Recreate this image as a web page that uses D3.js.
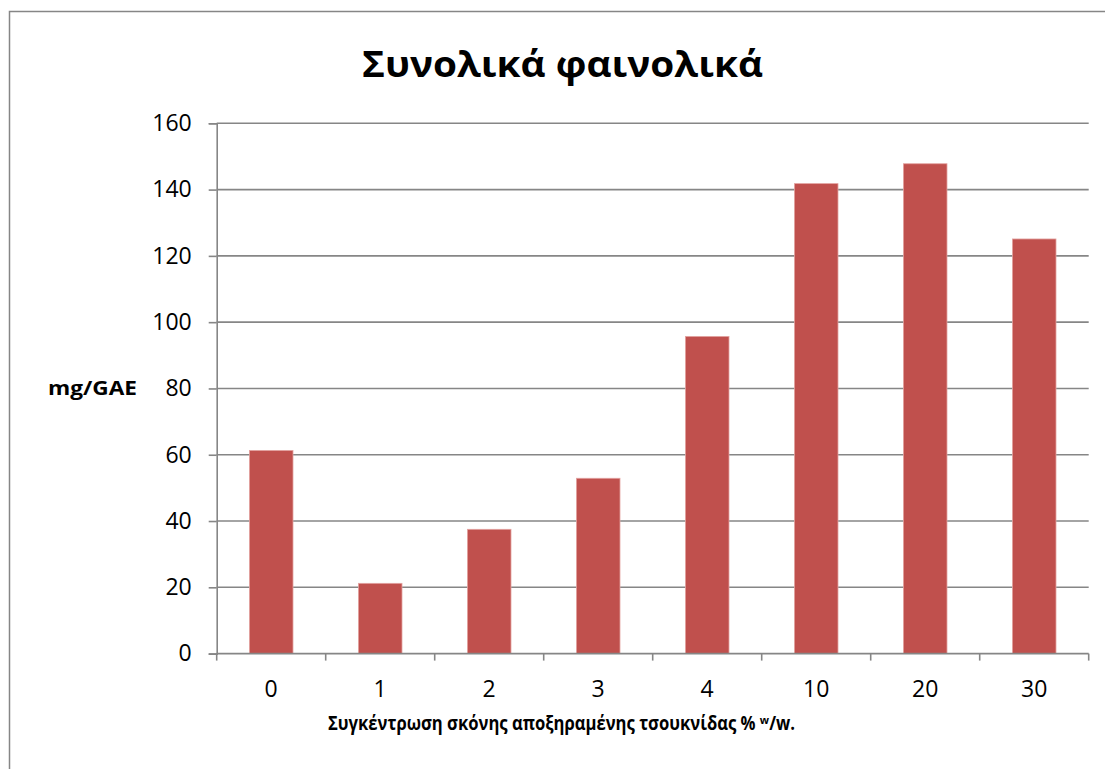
<!DOCTYPE html>
<html>
<head>
<meta charset="utf-8">
<script src="https://cdn.jsdelivr.net/npm/d3@7"></script>
<style>
  html, body { margin: 0; padding: 0; background: #fff; }
  svg { display: block; }
  text { font-family: "Open Sans", "Noto Sans", "DejaVu Sans", sans-serif; fill: #000; }
</style>
</head>
<body>
<svg id="chart" width="1105" height="769"></svg>
<script>
// Concentration of dried nettle powder (% w/w)
const categories = ["0", "1", "2", "3", "4", "10", "20", "30"];
// Total phenolics, mg GAE
const values = [61.3, 21.2, 37.5, 52.9, 95.7, 141.8, 147.8, 125.1];
const yTicks = [0, 20, 40, 60, 80, 100, 120, 140, 160];

const chartTitle = "Συνολικά φαινολικά";
const yTitle = "mg/GAE";
const xTitle = "Συγκέντρωση σκόνης αποξηραμένης τσουκνίδας % ʷ/w.";

const svg = d3.select("#chart");
const gridColor = "#868686";
const barColor = "#C0504D";

const plot = { left: 216.7, right: 1088.7, top: 123.3, bottom: 653.6 };

// Outer chart frame
svg.append("rect")
  .attr("x", 9.5).attr("y", 11.5)
  .attr("width", 1200).attr("height", 1000)
  .attr("fill", "none").attr("stroke", gridColor).attr("stroke-width", 1.5);

const x = d3.scaleBand()
  .domain(categories)
  .range([plot.left, plot.right])
  .paddingInner(0.6)
  .paddingOuter(0.3);

const y = d3.scaleLinear()
  .domain([0, 160])
  .range([plot.bottom, plot.top]);

// Horizontal gridlines
svg.append("g")
  .selectAll("line")
  .data(yTicks.filter(t => t > 0))
  .join("line")
  .attr("x1", plot.left).attr("x2", plot.right)
  .attr("y1", d => y(d)).attr("y2", d => y(d))
  .attr("stroke", gridColor).attr("stroke-width", 1.6);

// Bars
svg.append("g")
  .selectAll("rect")
  .data(values)
  .join("rect")
  .attr("x", (d, i) => x(categories[i]))
  .attr("width", x.bandwidth())
  .attr("y", d => y(d))
  .attr("height", d => y(0) - y(d))
  .attr("fill", barColor)
  .attr("stroke", "#e3a3a1")
  .attr("stroke-width", 0.8);

// Y axis
const yAxis = svg.append("g")
  .attr("transform", `translate(${plot.left},0)`)
  .call(d3.axisLeft(y).tickValues(yTicks).tickSize(8).tickPadding(17).tickFormat(d3.format("d")));
yAxis.select(".domain").attr("stroke", gridColor).attr("stroke-width", 1.6);
yAxis.selectAll(".tick line").attr("stroke", gridColor).attr("stroke-width", 1.6);
yAxis.selectAll(".tick text")
  .attr("font-size", 23).attr("fill", "#000")
  .attr("font-family", "'Open Sans', 'Noto Sans', sans-serif");

// X axis: labels centred under each bar, ticks between categories
const xAxis = svg.append("g")
  .attr("transform", `translate(0,${plot.bottom})`)
  .call(d3.axisBottom(x).tickSize(0).tickPadding(27));
xAxis.select(".domain").remove();
xAxis.selectAll(".tick text")
  .attr("font-size", 23).attr("fill", "#000")
  .attr("font-family", "'Open Sans', 'Noto Sans', sans-serif");

const half = (x.step() - x.bandwidth()) / 2;
const boundaries = categories.map(c => x(c) - half).concat([x(categories[categories.length - 1]) + x.bandwidth() + half]);

svg.append("line")
  .attr("x1", plot.left).attr("x2", boundaries[boundaries.length - 1])
  .attr("y1", plot.bottom).attr("y2", plot.bottom)
  .attr("stroke", gridColor).attr("stroke-width", 1.6);

svg.append("g")
  .selectAll("line")
  .data(boundaries)
  .join("line")
  .attr("x1", d => d).attr("x2", d => d)
  .attr("y1", plot.bottom).attr("y2", plot.bottom + 7)
  .attr("stroke", gridColor).attr("stroke-width", 1.6);

// Chart title
svg.append("text")
  .attr("x", 562.5).attr("y", 77)
  .attr("text-anchor", "middle")
  .attr("font-size", 36).attr("font-weight", "bold")
  .attr("textLength", 401).attr("lengthAdjust", "spacingAndGlyphs")
  .text(chartTitle);

// Y axis title
svg.append("text")
  .attr("x", 48).attr("y", 395)
  .attr("font-size", 19.5).attr("font-weight", "bold")
  .attr("textLength", 89).attr("lengthAdjust", "spacingAndGlyphs")
  .text(yTitle);

// X axis title
svg.append("text")
  .attr("x", 328).attr("y", 730)
  .attr("font-size", 19).attr("font-weight", "bold")
  .attr("textLength", 467).attr("lengthAdjust", "spacingAndGlyphs")
  .text(xTitle);
</script>
</body>
</html>
